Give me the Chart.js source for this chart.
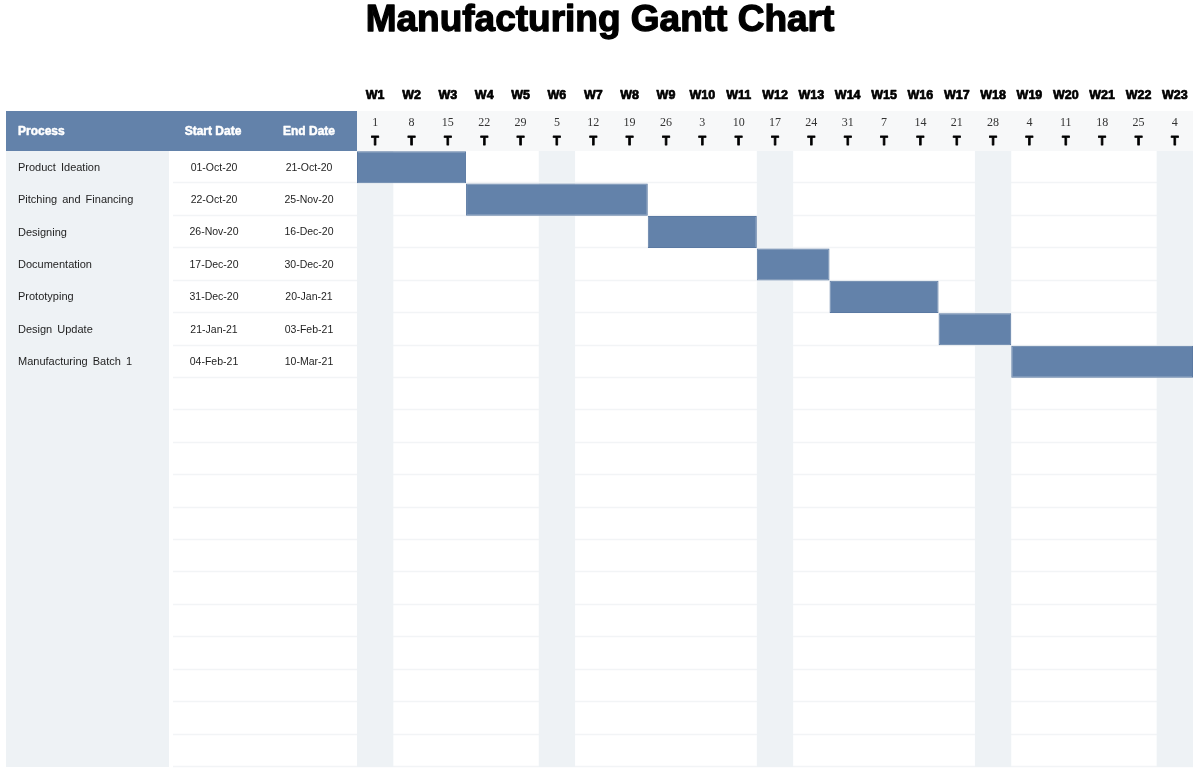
<!DOCTYPE html>
<html>
<head>
<meta charset="utf-8">
<script src="https://cdn.jsdelivr.net/npm/chart.js@4.4.1/dist/chart.umd.min.js"></script>
<style>
  html, body { margin: 0; padding: 0; background: #ffffff; }
  #wrap { width: 1200px; height: 774px; position: relative; }
</style>
</head>
<body>
<div id="wrap"><canvas id="ganttChart"></canvas></div>
<script>
const chart_title = "Manufacturing Gantt Chart";
const processes = ["Product Ideation", "Pitching and Financing", "Designing", "Documentation",
                   "Prototyping", "Design Update", "Manufacturing Batch 1"];
const start_dates = ["01-Oct-20", "22-Oct-20", "26-Nov-20", "17-Dec-20", "31-Dec-20", "21-Jan-21", "04-Feb-21"];
const end_dates = ["21-Oct-20", "25-Nov-20", "16-Dec-20", "30-Dec-20", "20-Jan-21", "03-Feb-21", "10-Mar-21"];
const week_labels = ["W1", "W2", "W3", "W4", "W5", "W6", "W7", "W8", "W9", "W10", "W11", "W12",
                     "W13", "W14", "W15", "W16", "W17", "W18", "W19", "W20", "W21", "W22", "W23"];
const day_labels = ["1", "8", "15", "22", "29", "5", "12", "19", "26", "3", "10", "17",
                    "24", "31", "7", "14", "21", "28", "4", "11", "18", "25", "4"];
const weekday_labels = ["T", "T", "T", "T", "T", "T", "T", "T", "T", "T", "T", "T",
                        "T", "T", "T", "T", "T", "T", "T", "T", "T", "T", "T"];
const shaded_weeks = ["W1", "W6", "W12", "W18", "W23"];
const table_headers = ["Process", "Start Date", "End Date"];
const first_day = "01-Oct-20";
const blank_rows = 12;

const months = ["Jan", "Feb", "Mar", "Apr", "May", "Jun", "Jul", "Aug", "Sep", "Oct", "Nov", "Dec"];
const DAY = 86400000;

function parseDate(s){
  let p = s.split("-");
  return Date.UTC(2000 + Number(p[2]), months.indexOf(p[1]), Number(p[0]));
}

// week position of a date on the timeline (0 = start of W1)
function weekPos(s, inclusiveEnd){
  let d = parseDate(s) + (inclusiveEnd ? DAY : 0);
  return (d - parseDate(first_day)) / (7 * DAY);
}

let row_labels = processes.slice();
for (let i = 0; i < blank_rows; i++) row_labels.push("");

let bars = [];
for (let i = 0; i < processes.length; i++){
  bars.push([weekPos(start_dates[i], false), weekPos(end_dates[i], true)]);
}

const BLUE = "#6382aa";
const LIGHT = "#eef2f5";
const LEFT_X = 6;
const PROC_END = 169;
const START_X = 214;
const END_X = 309;
const HEADER_TOP = 111;
const SANS = "'Liberation Sans', Arial, sans-serif";

// bold text with a thin stroke so it looks as heavy as the original
function heavyText(ctx, text, x, y, color, width){
  ctx.fillStyle = color;
  ctx.strokeStyle = color;
  ctx.lineWidth = width;
  ctx.lineJoin = "round";
  ctx.strokeText(text, x, y);
  ctx.fillText(text, x, y);
}

const ganttTable = {
  id: "ganttTable",
  beforeDatasetsDraw(chart){
    const ctx = chart.ctx, xs = chart.scales.x, ys = chart.scales.y, area = chart.chartArea;
    const rowH = (area.bottom - area.top) / row_labels.length;
    ctx.save();

    // header bands
    ctx.fillStyle = BLUE;
    ctx.fillRect(LEFT_X, HEADER_TOP, area.left - LEFT_X, area.top - HEADER_TOP);
    ctx.fillStyle = "#f7f8f9";
    ctx.fillRect(area.left, HEADER_TOP, area.right - area.left, area.top - HEADER_TOP);

    // process column background
    ctx.fillStyle = LIGHT;
    ctx.fillRect(LEFT_X, area.top, PROC_END - LEFT_X, area.bottom - area.top);

    // row lines
    ctx.strokeStyle = "#f2f4f6";
    ctx.lineWidth = 1.5;
    for (let i = 0; i < row_labels.length; i++){
      let yy = Math.round(ys.getPixelForValue(i) + rowH / 2) - 0.5;
      ctx.beginPath();
      ctx.moveTo(PROC_END + 4, yy);
      ctx.lineTo(area.right, yy);
      ctx.stroke();
    }

    // shaded week columns
    ctx.fillStyle = LIGHT;
    shaded_weeks.forEach(function(w){
      let i = week_labels.indexOf(w);
      let x0 = xs.getPixelForValue(i), x1 = xs.getPixelForValue(i + 1);
      ctx.fillRect(x0, area.top, x1 - x0, area.bottom - area.top);
    });
    ctx.restore();
  },
  afterDraw(chart){
    const ctx = chart.ctx, xs = chart.scales.x, ys = chart.scales.y, area = chart.chartArea;
    ctx.save();
    ctx.textBaseline = "middle";

    // title
    ctx.textAlign = "center";
    ctx.font = "bold 37px " + SANS;
    heavyText(ctx, chart_title, 600, 21, "#000000", 1.3);

    // week header rows
    for (let i = 0; i < week_labels.length; i++){
      let cx = xs.getPixelForValue(i + 0.5);
      ctx.font = "bold 12.5px " + SANS;
      heavyText(ctx, week_labels[i], cx, 96, "#000000", 0.7);
      ctx.fillStyle = "#333333";
      ctx.font = "12px 'Liberation Serif', serif";
      ctx.fillText(day_labels[i], cx, 122.5);
      ctx.font = "bold 12.5px " + SANS;
      heavyText(ctx, weekday_labels[i], cx, 141.5, "#000000", 0.8);
    }

    // table header
    let hy = (HEADER_TOP + area.top) / 2 + 1;
    ctx.font = "bold 12px " + SANS;
    ctx.textAlign = "left";
    heavyText(ctx, table_headers[0], 18, hy, "#ffffff", 0.5);
    ctx.textAlign = "center";
    heavyText(ctx, table_headers[1], START_X - 1, hy, "#ffffff", 0.5);
    heavyText(ctx, table_headers[2], END_X, hy, "#ffffff", 0.5);

    // table rows
    ctx.fillStyle = "#1e1e1e";
    for (let i = 0; i < processes.length; i++){
      let cy = ys.getPixelForValue(i) + 0.5;
      ctx.textAlign = "left";
      ctx.font = "11px " + SANS;
      ctx.wordSpacing = "2px";
      ctx.fillText(processes[i], 18, cy);
      ctx.wordSpacing = "0px";
      ctx.textAlign = "center";
      ctx.font = "10.5px " + SANS;
      ctx.fillText(start_dates[i], START_X, cy);
      ctx.fillText(end_dates[i], END_X, cy);
    }
    ctx.restore();
  }
};

let config = {
  type: "bar",
  data: {
    labels: row_labels,
    datasets: [{
      label: "Schedule",
      data: bars,
      backgroundColor: BLUE,
      borderColor: "#5a79a2",
      borderWidth: 1,
      borderSkipped: false,
      barPercentage: 1,
      categoryPercentage: 0.99
    }]
  },
  options: {
    indexAxis: "y",
    responsive: true,
    maintainAspectRatio: false,
    animation: false,
    layout: { padding: { left: 357, right: 7, top: 151, bottom: 7 } },
    plugins: {
      legend: { display: false },
      title: { display: false },
      tooltip: { enabled: false }
    },
    scales: {
      x: { type: "linear", min: 0, max: week_labels.length, display: false },
      y: { type: "category", labels: row_labels, offset: true, display: false }
    }
  },
  plugins: [ganttTable]
};

let ganttChart = new Chart(document.getElementById("ganttChart"), config);
</script>
</body>
</html>
